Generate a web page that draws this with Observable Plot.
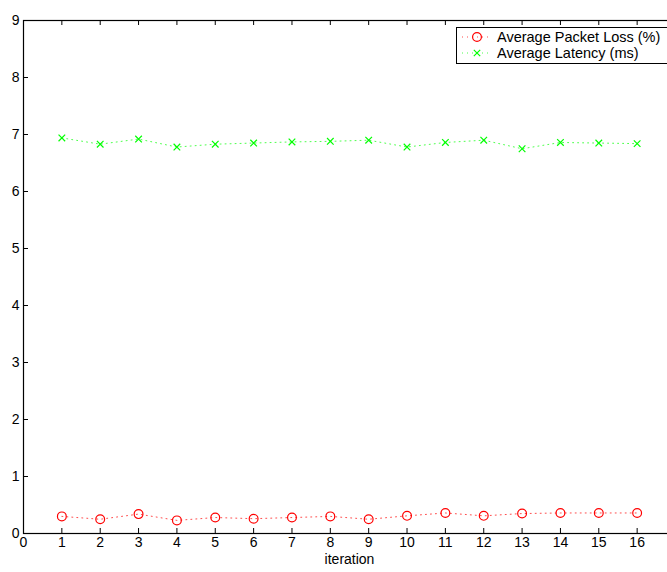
<!DOCTYPE html>
<html>
<head>
<meta charset="utf-8">
<script src="https://cdn.jsdelivr.net/npm/d3@7"></script>
<script src="https://cdn.jsdelivr.net/npm/@observablehq/plot@0.6"></script>
<style>
  html, body { margin: 0; padding: 0; background: #fff; overflow: hidden; }
  #wrap { position: relative; width: 680px; height: 572px; font-family: "Liberation Sans", Arial, sans-serif; }
  #legend { position: absolute; left: 456px; top: 27px; width: 240px; height: 35px; border: 1px solid #000; background: #fff; font-size: 14.5px; }
  #legend .row { position: absolute; left: 0; height: 16px; display: flex; align-items: center; }
  #legend svg { display: block; }
  #legend span { position: absolute; left: 40px; white-space: nowrap; line-height: 16px; }
</style>
</head>
<body>
<div id="wrap"></div>
<script>
const iterations = [1, 2, 3, 4, 5, 6, 7, 8, 9, 10, 11, 12, 13, 14, 15, 16];
const packetLoss = [0.30, 0.25, 0.34, 0.23, 0.28, 0.26, 0.28, 0.30, 0.25, 0.31, 0.36, 0.31, 0.35, 0.36, 0.36, 0.36];
const latency = [6.94, 6.83, 6.92, 6.78, 6.83, 6.85, 6.87, 6.88, 6.90, 6.78, 6.86, 6.90, 6.75, 6.86, 6.85, 6.84];
const xTicks = [0, 1, 2, 3, 4, 5, 6, 7, 8, 9, 10, 11, 12, 13, 14, 15, 16];
const yTicks = [0, 1, 2, 3, 4, 5, 6, 7, 8, 9];
const seriesNames = ["Average Packet Loss (%)", "Average Latency (ms)"];
const seriesColors = ["#ff0000", "#00ff00"];

const lossData = iterations.map((x, i) => ({x, y: packetLoss[i]}));
const latData = iterations.map((x, i) => ({x, y: latency[i]}));

const W = 680, H = 572;
const mL = 23, mR = 5, mT = 20, mB = 39;
const pw = W - mL - mR, ph = H - mT - mB;
const tk = 5;

const chart = Plot.plot({
  width: W, height: H,
  marginLeft: mL, marginRight: mR, marginTop: mT, marginBottom: mB,
  style: {fontFamily: "'Liberation Sans', Arial, sans-serif", fontSize: "14px", color: "#000", background: "#fff"},
  x: {domain: [0, 17], ticks: xTicks},
  y: {domain: [0, 9], ticks: yTicks},
  marks: [
    Plot.axisX({ticks: xTicks, tickSize: 0, tickPadding: 4, label: null, fontSize: 14, tickFormat: d => String(d)}),
    Plot.axisY({ticks: yTicks, tickSize: 0, tickPadding: 4, label: null, fontSize: 14, tickFormat: d => String(d)}),
    // inward ticks on all four sides
    Plot.tickX(xTicks, {x: d => d, insetTop: ph - tk, stroke: "#000", strokeWidth: 1}),
    Plot.tickX(xTicks, {x: d => d, insetBottom: ph - tk, stroke: "#000", strokeWidth: 1}),
    Plot.tickY(yTicks, {y: d => d, insetRight: pw - tk, stroke: "#000", strokeWidth: 1}),
    Plot.tickY(yTicks, {y: d => d, insetLeft: pw - tk, stroke: "#000", strokeWidth: 1}),
    Plot.frame({stroke: "#000", strokeWidth: 1.2}),
    Plot.line(lossData, {x: "x", y: "y", stroke: seriesColors[0], strokeWidth: 1, strokeDasharray: "1,4", strokeOpacity: 0.7}),
    Plot.line(latData, {x: "x", y: "y", stroke: seriesColors[1], strokeWidth: 1, strokeDasharray: "1,4", strokeOpacity: 0.7}),
    Plot.dot(lossData, {x: "x", y: "y", r: 4.4, stroke: seriesColors[0], strokeWidth: 1.2, fill: "none"}),
    Plot.dot(latData, {x: "x", y: "y", r: 3.1, symbol: "times", stroke: seriesColors[1], strokeWidth: 1.2}),
    Plot.text(["iteration"], {frameAnchor: "bottom", dy: 30, fontSize: 14, fill: "#000"})
  ]
});

const wrap = document.getElementById("wrap");
wrap.appendChild(chart);

// legend overlay
const legend = document.createElement("div");
legend.id = "legend";
seriesNames.forEach((name, i) => {
  const row = document.createElement("div");
  row.className = "row";
  row.style.top = (i === 0 ? 1 : 17) + "px";
  const svg = d3.create("svg").attr("width", 36).attr("height", 16);
  svg.append("line").attr("x1", 5).attr("x2", 32).attr("y1", 8).attr("y2", 8)
    .attr("stroke", seriesColors[i]).attr("stroke-dasharray", "1,4").attr("stroke-opacity", 0.7);
  if (i === 0) {
    svg.append("circle").attr("cx", 20).attr("cy", 8).attr("r", 4.4).attr("fill", "none")
      .attr("stroke", seriesColors[i]).attr("stroke-width", 1.2);
  } else {
    svg.append("path").attr("transform", "translate(20,8)")
      .attr("d", "M-3.2,-3.2L3.2,3.2M-3.2,3.2L3.2,-3.2")
      .attr("stroke", seriesColors[i]).attr("stroke-width", 1.2);
  }
  row.appendChild(svg.node());
  const label = document.createElement("span");
  label.textContent = name;
  row.appendChild(label);
  legend.appendChild(row);
});
wrap.appendChild(legend);
</script>
</body>
</html>
